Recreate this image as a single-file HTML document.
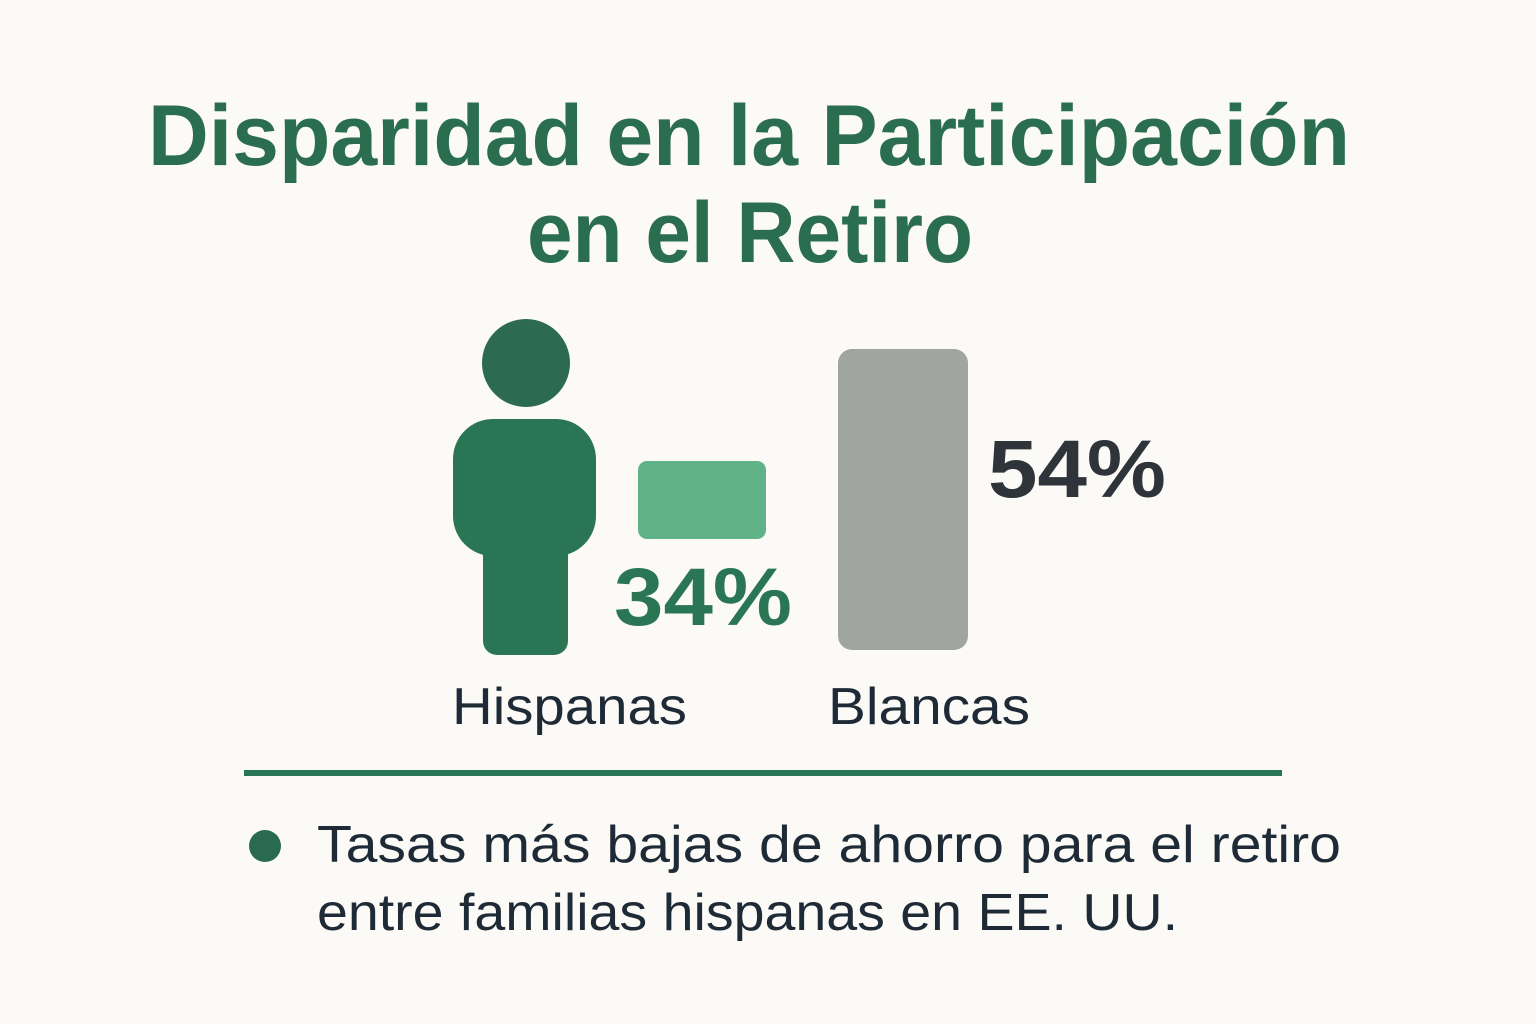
<!DOCTYPE html>
<html><head><meta charset="utf-8"><style>
html,body{margin:0;padding:0;background:#fbfaf6;}
svg{display:block}
text{font-family:"Liberation Sans","DejaVu Sans",sans-serif;}
</style></head><body>
<svg width="1536" height="1024" viewBox="0 0 1536 1024" xmlns="http://www.w3.org/2000/svg">
<rect width="1536" height="1024" fill="#fbfaf6"/>
<text x="148" y="165" font-size="86" font-weight="bold" fill="#2b6e4f" textLength="1202" lengthAdjust="spacingAndGlyphs">Disparidad en la Participación</text>
<text x="527" y="262" font-size="86" font-weight="bold" fill="#2b6e4f" textLength="446" lengthAdjust="spacingAndGlyphs">en el Retiro</text>
<circle cx="526" cy="363" r="44" fill="#2c6a53"/>
<rect x="453" y="419" width="143" height="137" rx="40" fill="#2a7654"/>
<rect x="483" y="520" width="85" height="135" rx="14" fill="#2a7654"/>
<rect x="638" y="461" width="128" height="78" rx="9" fill="#5fb386"/>
<text x="614" y="625" font-size="82" font-weight="bold" fill="#2a7654" textLength="178" lengthAdjust="spacingAndGlyphs">34%</text>
<rect x="838" y="349" width="130" height="301" rx="14" fill="#a0a5a0"/>
<text x="988" y="497" font-size="82" font-weight="bold" fill="#2e343a" textLength="178" lengthAdjust="spacingAndGlyphs">54%</text>
<text x="452" y="724" font-size="52" fill="#1e2a36" textLength="235" lengthAdjust="spacingAndGlyphs">Hispanas</text>
<text x="828" y="724" font-size="52" fill="#1e2a36" textLength="202" lengthAdjust="spacingAndGlyphs">Blancas</text>
<rect x="244" y="770" width="1038" height="6" fill="#2a7654"/>
<circle cx="265" cy="846" r="16" fill="#2a6a50"/>
<text x="317" y="862" font-size="52" fill="#1e2a36" textLength="1024" lengthAdjust="spacingAndGlyphs">Tasas más bajas de ahorro para el retiro</text>
<text x="317" y="930" font-size="52" fill="#1e2a36" textLength="861" lengthAdjust="spacingAndGlyphs">entre familias hispanas en EE. UU.</text>
</svg>
</body></html>
